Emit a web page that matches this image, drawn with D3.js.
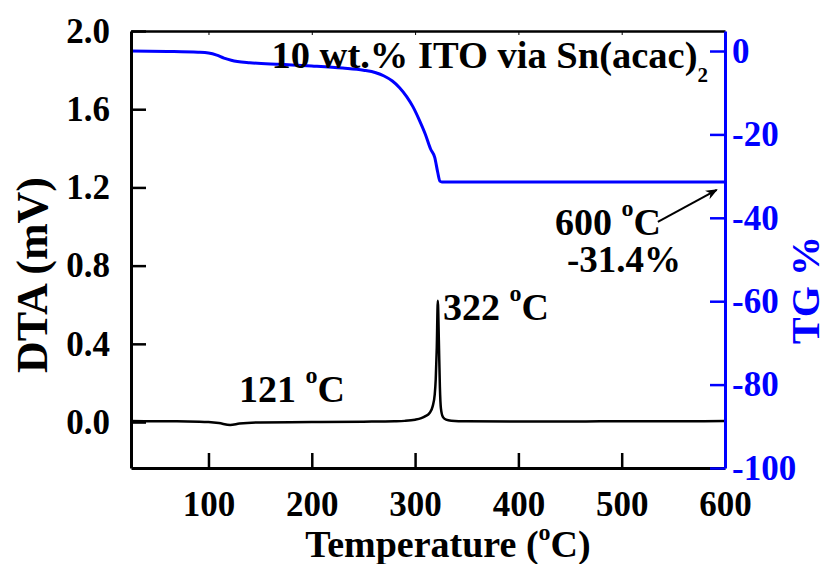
<!DOCTYPE html>
<html>
<head>
<meta charset="utf-8">
<script src="https://cdn.jsdelivr.net/npm/d3@7"></script>
<style>
  body { margin: 0; background: #fff; }
  svg text { font-family: "Liberation Serif", "Times New Roman", serif; font-weight: bold; }
</style>
</head>
<body>
<div id="chart"></div>
<script>
// DTA curve (black, left axis)
const dtaTemp = [25, 50, 80, 100, 110, 121, 130, 150, 200, 250, 280, 290, 300, 306, 310, 314, 317, 319, 320, 321, 322, 323, 324, 325, 327, 330, 335, 350, 400, 450, 500, 550, 600];
const dtaVal  = [0.005, 0.004, 0.003, 0.0, -0.005, -0.015, -0.008, -0.002, 0.0, 0.002, 0.004, 0.006, 0.012, 0.02, 0.03, 0.046, 0.08, 0.14, 0.22, 0.38, 0.62, 0.42, 0.18, 0.07, 0.025, 0.012, 0.007, 0.004, 0.003, 0.003, 0.004, 0.004, 0.005];

// TG curve (blue, right axis)
const tgTemp = [25, 60, 90, 100, 108, 115, 122, 128, 140, 170, 200, 230, 250, 262, 270, 278, 285, 292, 298, 304, 310, 315, 319, 322, 324, 326, 350, 400, 500, 600];
const tgVal  = [0, -0.1, -0.3, -0.5, -1.0, -1.7, -2.2, -2.5, -2.8, -3.2, -3.6, -4.1, -4.6, -5.2, -6.0, -7.2, -8.8, -11, -13.4, -16.5, -20, -23.5, -25.5, -29.2, -31.2, -31.4, -31.4, -31.4, -31.4, -31.4];

const xTicks = [100, 200, 300, 400, 500, 600];
const dtaTicks = [0.0, 0.4, 0.8, 1.2, 1.6, 2.0];
const tgTicks = [0, -20, -40, -60, -80, -100];

const width = 829, height = 564;
const margin = { top: 31, right: 104, bottom: 96, left: 131 };
const plotW = width - margin.left - margin.right,
      plotH = height - margin.top - margin.bottom;

const svg = d3.select("#chart")
    .append("svg")
        .attr("width", width)
        .attr("height", height)
    .append("g")
        .attr("transform", `translate(${margin.left},${margin.top})`);

const x = d3.scaleLinear().domain([25, 600]).range([0, plotW]);
const yL = d3.scaleLinear().domain([-0.235, 2.0]).range([plotH, 0]);
const yR = d3.scaleLinear().domain([-100, 4.8]).range([plotH, 0]);

// curves
const dtaData = dtaTemp.map((t, i) => ({ t, v: dtaVal[i] }));
const tgData = tgTemp.map((t, i) => ({ t, v: tgVal[i] }));

svg.append("path")
    .datum(dtaData)
    .attr("fill", "none")
    .attr("stroke", "black")
    .attr("stroke-width", 2.5)
    .attr("d", d3.line().x(d => x(d.t)).y(d => yL(d.v)).curve(d3.curveMonotoneX));

svg.append("path")
    .datum(tgData)
    .attr("fill", "none")
    .attr("stroke", "#0000ff")
    .attr("stroke-width", 3)
    .attr("d", d3.line().x(d => x(d.t)).y(d => yR(d.v)).curve(d3.curveMonotoneX));

// top border
const topAxis = svg.append("g")
    .call(d3.axisTop(x).tickValues(xTicks.slice(0, 5)).tickSize(-4).tickSizeOuter(0).tickFormat(""));
topAxis.selectAll("path").style("stroke", "black").style("stroke-width", 2.5);
topAxis.selectAll("line").style("stroke", "black").style("stroke-width", 1);

// bottom axis
const xAxisGroup = svg.append("g")
    .attr("transform", `translate(0,${plotH})`)
    .call(d3.axisBottom(x).tickValues(xTicks).tickSize(-15).tickSizeOuter(0).tickPadding(23));
xAxisGroup.selectAll("path").style("stroke", "black").style("stroke-width", 3);
xAxisGroup.selectAll("line").style("stroke", "black").style("stroke-width", 2.5);
xAxisGroup.selectAll("text").style("fill", "black").style("font-size", "35px");

// left axis
const yAxisGroup = svg.append("g")
    .call(d3.axisLeft(yL).tickValues(dtaTicks).tickSize(-15).tickSizeOuter(0).tickPadding(21).tickFormat(d3.format(".1f")));
yAxisGroup.selectAll("path").style("stroke", "black").style("stroke-width", 3);
yAxisGroup.selectAll("line").style("stroke", "black").style("stroke-width", 2.5);
yAxisGroup.selectAll("text").style("fill", "black").style("font-size", "35px");

// right axis
const rAxisGroup = svg.append("g")
    .attr("transform", `translate(${plotW},0)`)
    .call(d3.axisRight(yR).tickValues(tgTicks).tickSize(-15).tickSizeOuter(0).tickPadding(7).tickFormat(d => String(d)));
rAxisGroup.selectAll("path").style("stroke", "#0000ff").style("stroke-width", 3);
rAxisGroup.selectAll("line").style("stroke", "#0000ff").style("stroke-width", 2.5);
rAxisGroup.selectAll("text").style("fill", "#0000ff").style("font-size", "35px");

// axis titles
const xTitle = svg.append("text")
    .attr("x", plotW / 2 + 20)
    .attr("y", plotH + 89)
    .attr("text-anchor", "middle")
    .style("font-size", "38px");
xTitle.append("tspan").text("Temperature (");
xTitle.append("tspan").attr("dy", -17).style("font-size", "24px").text("o");
xTitle.append("tspan").attr("dy", 17).text("C)");

svg.append("text")
    .attr("transform", `translate(${47 - margin.left},${275 - margin.top}) rotate(-90)`)
    .attr("text-anchor", "middle")
    .style("font-size", "44px")
    .text("DTA (mV)");

svg.append("text")
    .attr("transform", `translate(${819 - margin.left},${290 - margin.top}) rotate(-90)`)
    .attr("text-anchor", "middle")
    .style("font-size", "40px")
    .style("fill", "#0000ff")
    .text("TG %");

// annotations
const degLabel = (tx, ty, num) => {
    const t = svg.append("text").attr("x", tx).attr("y", ty).style("font-size", "38px");
    t.append("tspan").text(num + " ");
    t.append("tspan").attr("dy", -19).style("font-size", "24px").text("o");
    t.append("tspan").attr("dy", 19).text("C");
    return t;
};

const title = svg.append("text")
    .attr("x", x(161))
    .attr("y", yL(1.81))
    .style("font-size", "38.5px");
title.append("tspan").text("10 wt.% ITO via Sn(acac)");
title.append("tspan").attr("dy", 14).style("font-size", "21px").text("2");

degLabel(x(327), yL(0.52), "322");
degLabel(x(129.5), yL(0.10), "121");
degLabel(x(435.5), yR(-44.1), "600");

svg.append("text")
    .attr("x", x(447))
    .attr("y", yR(-53))
    .style("font-size", "37px")
    .text("-31.4%");

// arrow to the 600 °C point
svg.append("defs").append("marker")
    .attr("id", "arrow")
    .attr("viewBox", "0 0 10 10")
    .attr("refX", 9).attr("refY", 5)
    .attr("markerWidth", 6).attr("markerHeight", 6)
    .attr("orient", "auto")
    .append("path")
        .attr("d", "M0,1 L10,5 L0,9 L3,5 Z")
        .attr("fill", "black");

svg.append("line")
    .attr("x1", x(535)).attr("y1", yR(-41))
    .attr("x2", x(592)).attr("y2", yR(-33.3))
    .attr("stroke", "black")
    .attr("stroke-width", 2)
    .attr("marker-end", "url(#arrow)");
</script>
</body>
</html>
